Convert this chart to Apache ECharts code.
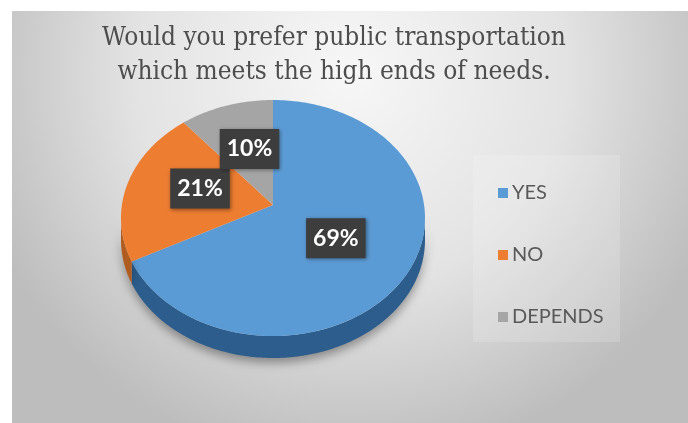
<!DOCTYPE html>
<html><head><meta charset="utf-8">
<script src="https://cdn.jsdelivr.net/npm/echarts@6/dist/echarts.min.js"></script>
<style>html,body{margin:0;padding:0;background:#fff}#c{width:688px;height:423px}</style>
</head><body><div id="c"></div>
<script>
const titleText = 'Would you prefer public transportation\nwhich meets the high ends of needs.';
const categories = ['YES', 'NO', 'DEPENDS'];
const values = [69, 21, 10];
const labels = ['69%', '21%', '10%'];
const topColors = ['#5B9BD5', '#ED7D31', '#A5A5A5'];
const sideColors = ['#2c5d8c', '#b05c20', '#7a7a7a'];

const total = values.reduce((a, b) => a + b, 0);
const spans = [];
let acc = 0;
values.forEach(v => { spans.push([acc / total, (acc + v) / total]); acc += v; });

// geometry of the tilted pie
const G = { cx: 273, cy: 218, apexY: 205, rx: 152, ry: 118, depth: 22 };
function rim(t) { // t: fraction of full circle clockwise from 12 o'clock
  const a = t * 2 * Math.PI;
  return [G.cx + G.rx * Math.sin(a), G.cy - G.ry * Math.cos(a)];
}
function arcPts(t0, t1) {
  const n = Math.max(2, Math.ceil((t1 - t0) * 360));
  const p = [];
  for (let i = 0; i <= n; i++) p.push(rim(t0 + (t1 - t0) * i / n));
  return p;
}

function sliceRender(idx) {
  return function (params, api) {
    const t0 = api.value(0), t1 = api.value(1);
    const children = [];
    const s0 = Math.max(t0, 0.25), s1 = Math.min(t1, 0.75);
    if (s1 > s0) {
      const topArc = arcPts(s0, s1);
      const bottom = topArc.map(p => [p[0], p[1] + G.depth]).reverse();
      children.push({
        type: 'polygon',
        shape: { points: topArc.concat(bottom) },
        style: {
          fill: sideColors[idx],
          shadowBlur: 10, shadowColor: 'rgba(0,0,0,0.35)', shadowOffsetY: 5
        }
      });
    }
    const pts = [[G.cx, G.apexY]].concat(arcPts(t0, t1));
    children.push({
      type: 'polygon',
      shape: { points: pts },
      style: { fill: topColors[idx] }
    });
    return { type: 'group', children: children };
  };
}

const sliceSeries = categories.map((name, i) => ({
  type: 'custom',
  name: name,
  coordinateSystem: 'none',
  itemStyle: { color: topColors[i] },
  renderItem: sliceRender(i),
  data: [spans[i]],
  silent: true
}));

const labelSeries = {
  type: 'custom',
  name: 'labels',
  coordinateSystem: 'none',
  z: 10,
  silent: true,
  data: spans.map((s, i) => [s[0], s[1], i]),
  renderItem: function (params, api) {
    const t = (api.value(0) + api.value(1)) / 2;
    const i = api.value(2);
    const a = t * 2 * Math.PI;
    const k = 0.5;
    const x = G.cx + k * G.rx * Math.sin(a);
    const y = G.apexY - k * G.ry * Math.cos(a);
    return {
      type: 'text',
      x: x, y: y,
      style: {
        text: labels[i],
        fill: '#ffffff',
        font: 'bold 23px Lato',
        align: 'center', verticalAlign: 'middle',
        backgroundColor: '#3d3d3d',
        padding: [9, 7, 8, 7],
        shadowBlur: 4, shadowColor: 'rgba(0,0,0,0.4)', shadowOffsetX: 1, shadowOffsetY: 1
      }
    };
  }
};

const chart = echarts.init(document.getElementById('c'), null, { renderer: 'canvas' });
chart.setOption({
  animation: false,
  graphic: [
    {
      type: 'rect', z: -10, silent: true,
      shape: { x: 12, y: 11, width: 676, height: 412 },
      style: {
        fill: {
          type: 'radial', x: 0.5, y: 0.15, r: 0.95,
          colorStops: [
            { offset: 0, color: '#f7f7f7' },
            { offset: 0.55, color: '#e3e3e3' },
            { offset: 1, color: '#bdbdbd' }
          ]
        }
      }
    },
    {
      type: 'rect', z: -9, silent: true,
      shape: { x: 473, y: 155, width: 147, height: 187 },
      style: { fill: 'rgba(255,255,255,0.16)' }
    }
  ],
  title: {
    text: titleText,
    left: 329, top: 16, textAlign: 'center',
    textStyle: { fontFamily: 'DejaVu Serif Condensed', fontSize: 26, fontWeight: 'normal', color: '#4d4d4d', lineHeight: 34 }
  },
  legend: {
    orient: 'vertical',
    left: 493, top: 178,
    data: categories,
    icon: 'rect',
    itemWidth: 10, itemHeight: 10,
    itemGap: 42,
    textStyle: { fontFamily: 'Lato', fontSize: 20, color: '#595959', lineHeight: 20, padding: [0, 0, 0, -1] },
    selectedMode: false
  },
  series: sliceSeries.concat([labelSeries])
});
</script></body></html>
